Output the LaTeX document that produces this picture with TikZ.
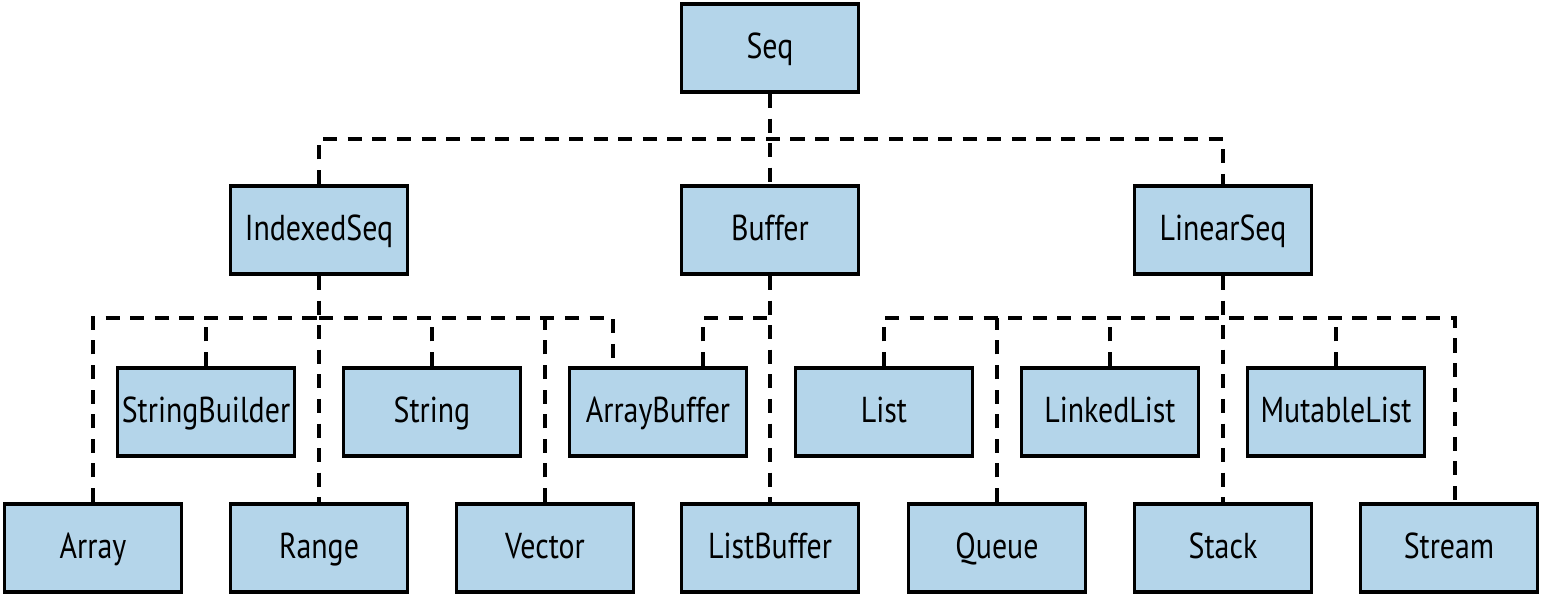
\documentclass[tikz,border=0pt]{standalone}
\usepackage{fontspec}
\setmainfont{PT Sans}[FakeStretch=0.83]
\usetikzlibrary{calc}

\begin{document}
\begin{tikzpicture}[x=0.02cm, y=-0.02cm]
    % Define colours
    \definecolor{borderColour}{HTML}{000000}
    \definecolor{fillColour}{HTML}{B4D5EA}

    % Styles for classes and links
    \tikzset{
        classbox/.style={draw=borderColour, fill=fillColour, line width=2.2pt,
            minimum width=3.54cm, minimum height=1.76cm, inner sep=0pt,
            text height=16pt, text depth=3.5pt,
            font=\fontsize{20.5pt}{24pt}\selectfont},
        link/.style={draw=borderColour, line width=2.2pt,
            dash pattern=on 8pt off 6pt}
    }

    % Fix the margins
    \useasboundingbox (0,0) rectangle (1548,597);

    % Top level
    \node[classbox] (Seq) at (770,48) {Seq};

    % Second level
    \node[classbox] (IndexedSeq) at (319,230) {IndexedSeq};
    \node[classbox] (Buffer) at (770,230) {Buffer};
    \node[classbox] (LinearSeq) at (1223,230) {LinearSeq};

    % Third level
    \node[classbox] (StringBuilder) at (206,412) {StringBuilder};
    \node[classbox] (String) at (432,412) {String};
    \node[classbox] (ArrayBuffer) at (658,412) {ArrayBuffer};
    \node[classbox] (List) at (884,412) {List};
    \node[classbox] (LinkedList) at (1110,412) {LinkedList};
    \node[classbox] (MutableList) at (1336,412) {MutableList};

    % Bottom level
    \node[classbox] (Array) at (93,548) {Array};
    \node[classbox] (Range) at (319,548) {Range};
    \node[classbox] (Vector) at (545,548) {Vector};
    \node[classbox] (ListBuffer) at (770,548) {ListBuffer};
    \node[classbox] (Queue) at (997,548) {Queue};
    \node[classbox] (Stack) at (1223,548) {Stack};
    \node[classbox] (Stream) at (1449,548) {Stream};

    % Bus lines
    \coordinate (seqBus) at (770,139);
    \coordinate (ixBus) at (319,318);
    \coordinate (bufBus) at (770,318);
    \coordinate (linBus) at (1223,318);

    % Seq links
    \draw[link] (Seq.south) -- (Buffer.north);
    \draw[link] (IndexedSeq.north) |- (seqBus) -| (LinearSeq.north);

    % IndexedSeq links
    \draw[link] (IndexedSeq.south) -- (Range.north);
    \draw[link] (Array.north) |- (ixBus);
    \draw[link] (ixBus) -| ([xshift=-0.9cm]ArrayBuffer.north);
    \foreach \n in {StringBuilder,String,Vector}
        \draw[link] (\n.north) -- (\n.north |- ixBus);

    % Buffer links
    \draw[link] (Buffer.south) -- (ListBuffer.north);
    \draw[link] ([xshift=0.9cm]ArrayBuffer.north) |- (bufBus);

    % LinearSeq links
    \draw[link] (LinearSeq.south) -- (Stack.north);
    \draw[link] (List.north) |- (linBus) -| ([xshift=0.12cm]Stream.north);
    \foreach \n in {Queue,LinkedList,MutableList}
        \draw[link] (\n.north) -- (\n.north |- linBus);

\end{tikzpicture}
\end{document}
